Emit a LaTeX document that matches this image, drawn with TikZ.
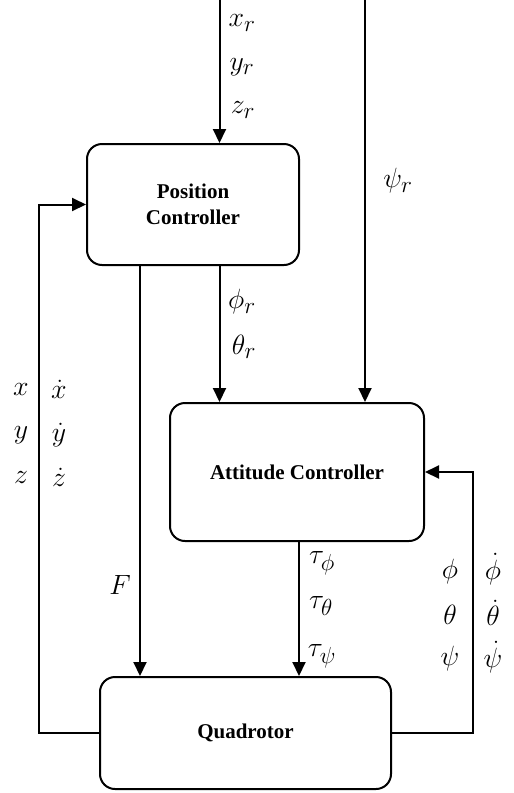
\documentclass[tikz,border=0pt]{standalone}
\usepackage{amsmath,amssymb}
\usepackage{fontspec}
\setmainfont{Liberation Serif}
\usepackage{tikz}
\usetikzlibrary{arrows.meta,calc,positioning}
\tikzset{
  block/.style={draw,line width=2pt,rounded corners=15pt,align=center,
    font=\fontsize{21}{26}\selectfont\bfseries},
  sig/.style={inner sep=0pt,scale=1.12,font=\fontsize{24.88}{30}\selectfont}
}

\begin{document}
\begin{tikzpicture}[>={Triangle[length=14pt,width=13pt]},x=1pt,y=-1pt,line width=2pt]
  \useasboundingbox (0,0) rectangle (514,793);
  % blocks
  \node[block,minimum width=212,minimum height=121] (pos) at (193,204.5) {Position\\Controller};
  \node[block,minimum width=254,minimum height=138] (att) at (297,472) {Attitude Controller};
  \node[block,minimum width=291,minimum height=112] (quad) at (245.5,733) {Quadrotor};
  % references
  \coordinate (xin) at (219.5,0);
  \coordinate (psiin) at (365,0);
  \coordinate (fout) at (140,0);
  \coordinate (tout) at (299,0);
  \draw[->] (xin) -- (xin |- pos.north);
  \draw[->] (psiin) -- (psiin |- att.north);
  \draw[->] (xin |- pos.south) -- (xin |- att.north);
  \draw[->] (fout |- pos.south) -- (fout |- quad.north);
  \draw[->] (tout |- att.south) -- (tout |- quad.north);
  % feedback
  \draw[->] (quad.west) -- ++(-60,0) |- (pos.west);
  \draw[->] (quad.east) -- ++(81,0) |- (att.east);
  % labels
  \node[sig] (xr) at (242,23) {$x_r$};
  \node[sig] (yr) at (242,67) {$y_r$};
  \node[sig] (zr) at (243,110) {$z_r$};
  \node[sig] (psir) at (398,181) {$\psi_r$};
  \node[sig] (phir) at (242,302) {$\phi_r$};
  \node[sig] (thetar) at (244,347) {$\theta_r$};
  \node[sig] (F) at (120,585) {$F$};
  \node[sig] (tphi) at (322,563) {$\tau_\phi$};
  \node[sig] (ttheta) at (321,606) {$\tau_\theta$};
  \node[sig] (tpsi) at (322,656) {$\tau_\psi$};
  \node[sig] (px) at (21,389) {$x$};
  \node[sig] (py) at (21,435) {$y$};
  \node[sig] (pz) at (21,477) {$z$};
  \node[sig] (vx) at (59,389) {$\dot x$};
  \node[sig] (vy) at (59,435) {$\dot y$};
  \node[sig] (vz) at (59,477) {$\dot z$};
  \node[sig] (aphi) at (450,572) {$\phi$};
  \node[sig] (atheta) at (450,615) {$\theta$};
  \node[sig] (apsi) at (450,659) {$\psi$};
  \node[sig] (wphi) at (493,569) {$\dot\phi$};
  \node[sig] (wtheta) at (493,613) {$\dot\theta$};
  \node[sig] (wpsi) at (493,657) {$\dot\psi$};
\end{tikzpicture}
\end{document}
